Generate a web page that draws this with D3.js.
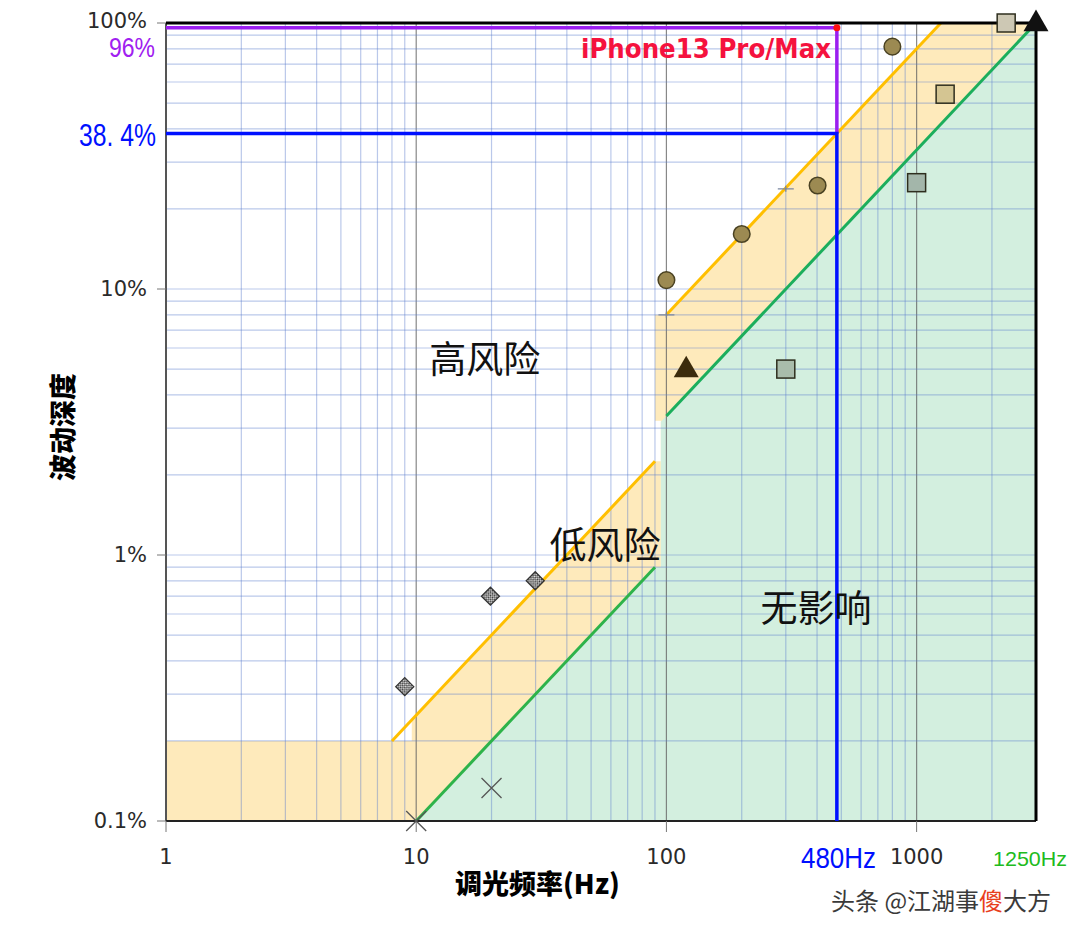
<!DOCTYPE html>
<html><head><meta charset="utf-8">
<script src="https://cdn.jsdelivr.net/npm/d3@7"></script>
<style>body{margin:0;background:#fff} svg{display:block}</style>
</head><body><svg id="c" width="1080" height="935"></svg>
<script>
// ---------- data ----------
const xTickValues = [1, 10, 100, 1000];
const xTickLabels = ["1", "10", "100", "1000"];
const yTickValues = [0.1, 1, 10, 100];
const yTickLabels = ["0.1%", "1%", "10%", "100%"];

// IEEE-1789 style boundaries (frequency Hz, depth %)
const lowRiskLineA  = [[8, 0.2], [90, 2.25]];
const noEffectLineA = [[10, 0.1], [90, 0.9]];
const lowRiskLineB  = [[100, 8], [1250, 100]];
const noEffectLineB = [[100, 3.33], [3000, 100]];

const lowRiskAreaA = [[1, 0.1], [1, 0.2], [9.6, 0.2], [9.6, 0.24], [90, 2.25], [95, 2.25], [95, 0.1]];
const lowRiskAreaB = [[90, 3.2], [90, 8], [100, 8], [1250, 100], [3000, 100], [3000, 0.1], [95, 0.1], [95, 3.2]];
const noEffectArea = [[10, 0.1], [90, 0.9], [95, 0.9], [95, 3.17], [100, 3.33], [3000, 100], [3000, 0.1]];

// sample devices
const circlePts   = [[100, 10.8], [200, 16.1], [402, 24.5], [800, 81.5]];
const plusPts     = [[100, 8], [300, 23.8]];
const squarePts   = [[300, 5.0], [1000, 25.1], [1300, 54], [2280, 100]];
const squareFills = ["#a9bcab", "#a3b6aa", "#d4c592", "#cdc8b4"];
const trianglePts = [[120, 5.0], [3000, 100]];
const triangleFills = ["#3c2c0c", "#111111"];
const diamondPts  = [[9, 0.32], [19.8, 0.70], [29.9, 0.80]];
const crossPts    = [[10, 0.1], [20, 0.133]];

// iPhone annotation
const iphoneFreq = 480;
const iphonePeak = 96;
const iphoneDepth = 38.4;
const iphoneName = "iPhone13 Pro/Max";

const regionLabels = [
  {text: "高风险", f: 18.8, d: 5.55},
  {text: "低风险", f: 56.8, d: 1.11},
  {text: "无影响", f: 396, d: 0.643}
];

// ---------- chart ----------
const svg = d3.select("#c");
const x = d3.scaleLog().domain([1, 3000]).range([166, 1036]);
const y = d3.scaleLog().domain([0.1, 100]).range([821, 23]);
const L = x(1), R = x(3000), T = y(100), B = y(0.1);

const defs = svg.append("defs");
const pat = defs.append("pattern").attr("id", "chk").attr("width", 3).attr("height", 3)
  .attr("patternUnits", "userSpaceOnUse").attr("patternTransform", "rotate(45)");
pat.append("rect").attr("width", 3).attr("height", 3).attr("fill", "#e8e8e8");
pat.append("rect").attr("width", 1.5).attr("height", 1.5).attr("fill", "#333");
pat.append("rect").attr("x", 1.5).attr("y", 1.5).attr("width", 1.5).attr("height", 1.5).attr("fill", "#333");

const area = d3.line().x(d => x(d[0])).y(d => y(d[1]));

// fills
svg.append("path").attr("d", area(lowRiskAreaA) + "Z").attr("fill", "#feeabb");
svg.append("path").attr("d", area(lowRiskAreaB) + "Z").attr("fill", "#feeabb");
svg.append("path").attr("d", area(noEffectArea) + "Z").attr("fill", "#d3efdf");

// grid
const xg = x.ticks().filter(v => v > 1 && v < 3000);
const yg = y.ticks().filter(v => v > 0.1 && v < 100);
const grid = svg.append("g");
grid.selectAll(".vx").data(xg).join("line")
  .attr("x1", d => x(d)).attr("x2", d => x(d)).attr("y1", T).attr("y2", B)
  .attr("stroke", d => xTickValues.includes(d) ? "#606060" : "#5a7ccc")
  .attr("stroke-opacity", d => xTickValues.includes(d) ? 0.75 : 0.42)
  .attr("stroke-width", 1.2);
grid.selectAll(".hy").data(yg).join("line")
  .attr("y1", d => y(d)).attr("y2", d => y(d)).attr("x1", L).attr("x2", R)
  .attr("stroke", "#5a7ccc").attr("stroke-opacity", 0.42).attr("stroke-width", 1.2);

// boundary lines
const ln = d3.line().x(d => x(d[0])).y(d => y(d[1]));
[[lowRiskLineA, "#ffbf00"], [lowRiskLineB, "#ffbf00"], [noEffectLineA, "#2eb34a"], [noEffectLineB, "#1cae5c"]]
  .forEach(([d, c]) => svg.append("path").attr("d", ln(d)).attr("fill", "none")
    .attr("stroke", c).attr("stroke-width", 3));

// frame
svg.append("line").attr("x1", L).attr("x2", L).attr("y1", T).attr("y2", B).attr("stroke", "#555").attr("stroke-width", 2);
svg.append("line").attr("x1", L).attr("x2", R).attr("y1", B).attr("y2", B).attr("stroke", "#222").attr("stroke-width", 2);
svg.append("line").attr("x1", L).attr("x2", R + 1.5).attr("y1", T).attr("y2", T).attr("stroke", "#000").attr("stroke-width", 3);
svg.append("line").attr("x1", R).attr("x2", R).attr("y1", T).attr("y2", B).attr("stroke", "#000").attr("stroke-width", 3);

// ticks
svg.selectAll(".xt").data(xTickValues).join("line")
  .attr("x1", d => x(d)).attr("x2", d => x(d)).attr("y1", B).attr("y2", B + 11).attr("stroke", "#777");
svg.selectAll(".yt").data(yTickValues).join("line")
  .attr("x1", L - 9).attr("x2", L).attr("y1", d => y(d)).attr("y2", d => y(d)).attr("stroke", "#777");

const font = "'DejaVu Sans', sans-serif";
const cjk = "'Noto Sans CJK SC', sans-serif";
svg.selectAll(".xl").data(xTickValues).join("text")
  .attr("x", d => x(d)).attr("y", 857).attr("text-anchor", "middle").attr("dominant-baseline", "central")
  .attr("font-family", font).attr("font-size", 21).attr("fill", "#2a2a2a")
  .text((d, i) => xTickLabels[i]);
svg.selectAll(".yl").data(yTickValues).join("text")
  .attr("x", 147).attr("y", (d, i) => y(d) + (i === 3 ? -2 : 0)).attr("text-anchor", "end").attr("dominant-baseline", "central")
  .attr("font-family", font).attr("font-size", 21).attr("fill", "#2a2a2a")
  .text((d, i) => yTickLabels[i]);

// iPhone annotation lines
svg.append("path").attr("d", ln([[1, iphonePeak], [iphoneFreq, iphonePeak], [iphoneFreq, iphoneDepth]]))
  .attr("fill", "none").attr("stroke", "#9b1ff0").attr("stroke-width", 3.5);
svg.append("path").attr("d", ln([[1, iphoneDepth], [iphoneFreq, iphoneDepth], [iphoneFreq, 0.1]]))
  .attr("fill", "none").attr("stroke", "#0010ff").attr("stroke-width", 3.5);
svg.append("circle").attr("cx", x(iphoneFreq)).attr("cy", y(iphonePeak)).attr("r", 3.5).attr("fill", "#ff1010");

// markers
const g = svg.append("g");
g.selectAll(".ci").data(circlePts).join("circle")
  .attr("cx", d => x(d[0])).attr("cy", d => y(d[1])).attr("r", 8.3)
  .attr("fill", "#9c8a52").attr("stroke", "#4a4222").attr("stroke-width", 1.5);
g.selectAll(".pl").data(plusPts).join("path")
  .attr("d", d => `M${x(d[0]) - 8},${y(d[1])}H${x(d[0]) + 8}M${x(d[0])},${y(d[1]) - 3}V${y(d[1]) + 3}`)
  .attr("stroke", "#7a86a0").attr("stroke-width", 1.3);
g.selectAll(".sq").data(squarePts).join("rect")
  .attr("x", d => x(d[0]) - 9).attr("y", d => y(d[1]) - 9).attr("width", 18).attr("height", 18)
  .attr("fill", (d, i) => squareFills[i]).attr("stroke", "#2e2e1e").attr("stroke-width", 1.5);
g.selectAll(".tr").data(trianglePts).join("path")
  .attr("transform", d => `translate(${x(d[0])},${y(d[1]) + 1})`)
  .attr("d", d3.symbol(d3.symbolTriangle, 270))
  .attr("fill", (d, i) => triangleFills[i]);
g.selectAll(".dm").data(diamondPts).join("path")
  .attr("transform", d => `translate(${x(d[0])},${y(d[1])})`)
  .attr("d", "M0,-9L9,0L0,9L-9,0Z")
  .attr("fill", "url(#chk)").attr("stroke", "#333").attr("stroke-width", 1.3);
g.selectAll(".cr").data(crossPts).join("path")
  .attr("d", d => { const cx = x(d[0]), cy = y(d[1]), s = 10;
    return `M${cx - s},${cy - s}L${cx + s},${cy + s}M${cx - s},${cy + s}L${cx + s},${cy - s}`; })
  .attr("stroke", "#555").attr("stroke-width", 1.3);

// region labels
svg.selectAll(".rl").data(regionLabels).join("text")
  .attr("x", d => x(d.f)).attr("y", d => y(d.d)).attr("text-anchor", "middle").attr("dominant-baseline", "central")
  .attr("font-family", cjk).attr("font-size", 37).attr("fill", "#111").text(d => d.text);

// annotation labels
svg.append("text").attr("x", 831).attr("y", 58).attr("text-anchor", "end")
  .attr("font-family", font).attr("font-weight", "bold").attr("font-size", 26)
  .attr("textLength", 250).attr("lengthAdjust", "spacingAndGlyphs")
  .attr("fill", "#f5123e").text(iphoneName);
svg.append("text").attr("x", 109).attr("y", 47).attr("dominant-baseline", "central")
  .attr("font-family", "'Liberation Sans', sans-serif").attr("font-size", 28)
  .attr("textLength", 46).attr("lengthAdjust", "spacingAndGlyphs")
  .attr("fill", "#a020f0").text(iphonePeak + "%");
svg.append("text").attr("x", 79).attr("y", 135).attr("dominant-baseline", "central")
  .attr("font-family", "'Liberation Sans', sans-serif").attr("font-size", 31)
  .attr("textLength", 77).attr("lengthAdjust", "spacingAndGlyphs")
  .attr("fill", "#0010ff").text("38. 4%");
svg.append("text").attr("x", 801).attr("y", 858).attr("dominant-baseline", "central")
  .attr("font-family", "'Liberation Sans', sans-serif").attr("font-size", 29)
  .attr("textLength", 75).attr("lengthAdjust", "spacingAndGlyphs")
  .attr("fill", "#0010ff").text(iphoneFreq + "Hz");
svg.append("text").attr("x", 993).attr("y", 858).attr("dominant-baseline", "central")
  .attr("font-family", "'Liberation Sans', sans-serif").attr("font-size", 21)
  .attr("textLength", 74).attr("lengthAdjust", "spacingAndGlyphs")
  .attr("fill", "#20bb20").text("1250Hz");

// axis titles
svg.append("text").attr("x", 455).attr("y", 882).attr("dominant-baseline", "central")
  .attr("font-family", cjk).attr("font-weight", 900).attr("font-size", 27).attr("fill", "#000")
  .text("调光频率(Hz)");
svg.append("text").attr("transform", "translate(61,427) rotate(-90)")
  .attr("text-anchor", "middle").attr("dominant-baseline", "central")
  .attr("font-family", cjk).attr("font-weight", 900).attr("font-size", 27).attr("fill", "#000")
  .text("波动深度");

// watermark
const wm = svg.append("text").attr("x", 831).attr("y", 899).attr("dominant-baseline", "central")
  .attr("font-family", cjk).attr("font-size", 24).attr("fill", "#3a3a3a")
  .attr("stroke", "#fff").attr("stroke-width", 3).attr("paint-order", "stroke");
wm.append("tspan").text("头条 @江湖事");
wm.append("tspan").attr("fill", "#e8401c").text("傻");
wm.append("tspan").text("大方");
</script></body></html>
